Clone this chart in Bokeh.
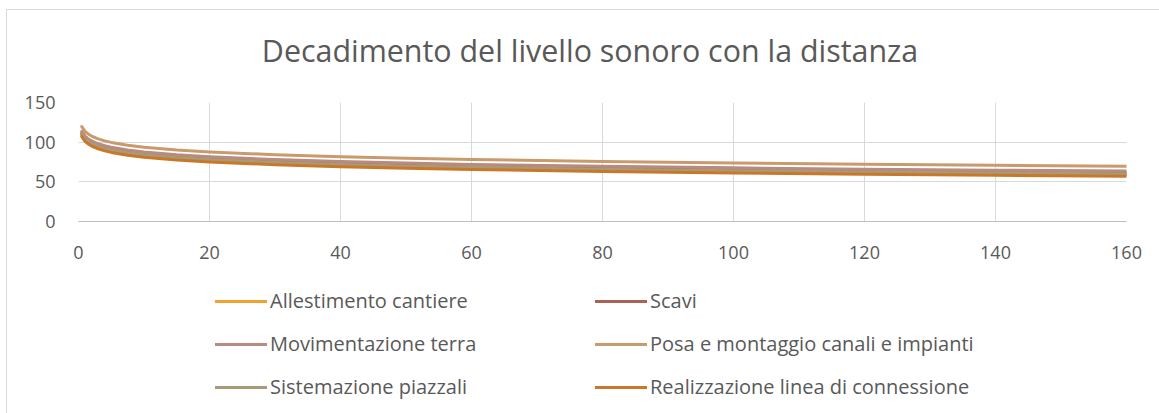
from bokeh.plotting import figure
from bokeh.models import Legend, LegendItem, FixedTicker, Range1d, Label
from bokeh.layouts import column
from bokeh.embed import file_html
from bokeh.resources import INLINE

distance = [0.5, 1, 1.5, 2, 3, 4, 5, 7.5, 10, 15, 20, 30, 40, 50, 60, 80, 100, 120, 140, 160]

allestimento = [109.1, 103.1, 99.6, 97.1, 93.5, 91.0, 89.1, 85.6, 83.1, 79.6, 77.1, 73.5, 71.0, 69.1, 67.5, 65.0, 63.1, 61.5, 60.2, 59.0]
scavi = [111.1, 105.1, 101.6, 99.1, 95.5, 93.0, 91.1, 87.6, 85.1, 81.6, 79.1, 75.5, 73.0, 71.1, 69.5, 67.0, 65.1, 63.5, 62.2, 61.0]
movimentazione = [113.6, 107.6, 104.1, 101.6, 98.0, 95.5, 93.6, 90.1, 87.6, 84.1, 81.6, 78.0, 75.5, 73.6, 72.0, 69.5, 67.6, 66.0, 64.7, 63.5]
posa = [119.7, 113.7, 110.2, 107.7, 104.1, 101.6, 99.7, 96.2, 93.7, 90.2, 87.7, 84.1, 81.6, 79.7, 78.1, 75.6, 73.7, 72.1, 70.8, 69.6]
sistemazione = [110.1, 104.1, 100.6, 98.1, 94.5, 92.0, 90.1, 86.6, 84.1, 80.6, 78.1, 74.5, 72.0, 70.1, 68.5, 66.0, 64.1, 62.5, 61.2, 60.0]
realizzazione = [107.1, 101.1, 97.6, 95.1, 91.5, 89.0, 87.1, 83.6, 81.1, 77.6, 75.1, 71.5, 69.0, 67.1, 65.5, 63.0, 61.1, 59.5, 58.2, 57.0]

series_names = [
    "Allestimento cantiere",
    "Scavi",
    "Movimentazione terra",
    "Posa e montaggio canali e impianti",
    "Sistemazione piazzali",
    "Realizzazione linea di connessione",
]
series_values = [allestimento, scavi, movimentazione, posa, sistemazione, realizzazione]
colors = ["#F2A12E", "#A9634F", "#B98A80", "#C99A6B", "#A89B76", "#C9782A"]

title_text = "Decadimento del livello sonoro con la distanza"
x_ticks = [0, 20, 40, 60, 80, 100, 120, 140, 160]
y_ticks = [0, 50, 100, 150]

FONT = "Open Sans"
GREY = "#595959"
LEFT, RIGHT, FW = 71, 33, 1048


def blank(height):
    f = figure(
        frame_width=FW, frame_height=height,
        output_backend="svg", toolbar_location=None,
        x_range=Range1d(0, 1), y_range=Range1d(0, 1),
        min_border_left=LEFT, min_border_right=RIGHT, min_border_top=0, min_border_bottom=0,
    )
    f.axis.visible = False
    f.grid.visible = False
    f.outline_line_color = None
    f.border_fill_color = "white"
    f.background_fill_color = "white"
    return f


# ---- title strip ----
tf = blank(77)
tf.add_layout(Label(
    x=511.5, y=37, x_units="screen", y_units="screen", text=title_text,
    text_font=FONT, text_font_size="30.4px", text_color=GREY,
    text_align="center", text_baseline="middle",
))

# ---- main chart ----
p = figure(
    frame_width=FW, frame_height=119,
    output_backend="svg", toolbar_location=None,
    x_range=Range1d(0, 160), y_range=Range1d(0, 150),
    min_border_left=LEFT, min_border_right=RIGHT, min_border_top=15, min_border_bottom=50,
)
p.outline_line_color = None
p.border_fill_color = "white"
p.background_fill_color = "white"

p.xaxis.ticker = FixedTicker(ticks=x_ticks)
p.yaxis.ticker = FixedTicker(ticks=y_ticks)
for ax in (p.xaxis[0], p.yaxis[0]):
    ax.axis_line_color = "#BFBFBF"
    ax.axis_line_width = 1
    ax.major_tick_line_color = None
    ax.minor_tick_line_color = None
    ax.major_label_text_font = FONT
    ax.major_label_text_font_size = "18px"
    ax.major_label_text_color = GREY
p.yaxis.axis_line_color = None
p.xaxis.major_label_standoff = 18
p.yaxis.major_label_standoff = 17

p.xgrid.ticker = FixedTicker(ticks=x_ticks)
p.ygrid.ticker = FixedTicker(ticks=y_ticks)
p.xgrid.grid_line_color = "#D9D9D9"
p.ygrid.grid_line_color = "#D9D9D9"

for vals, c in zip(series_values, colors):
    p.line(distance, vals, line_color=c, line_width=3, line_cap="round", line_join="round")

# ---- legend strip ----
lg = blank(142)
items = []
for name, vals, c in zip(series_names, series_values, colors):
    # same series, outside this strip's visible range; used only for legend swatches
    r = lg.line(distance, vals, line_color=c, line_width=3, line_cap="round")
    items.append(LegendItem(label=name, renderers=[r]))


def make_legend(its, x):
    return Legend(
        items=its,
        orientation="vertical",
        location=(x, 13),
        glyph_width=52, glyph_height=20,
        label_standoff=3,
        label_height=20,
        spacing=16,
        padding=0,
        margin=0,
        label_text_font=FONT,
        label_text_font_size="20px",
        label_text_color=GREY,
        border_line_color=None,
        background_fill_alpha=0,
    )


lg.add_layout(make_legend(items[0::2], 137), "center")
lg.add_layout(make_legend(items[1::2], 517), "center")

layout = column(
    tf, p, lg, spacing=0, margin=(9, 0, 0, 6),
    styles={"border-left": "1px solid #D9D9D9", "border-top": "1px solid #D9D9D9", "background": "white"},
)

open("out.html", "w").write(file_html(layout, INLINE))
